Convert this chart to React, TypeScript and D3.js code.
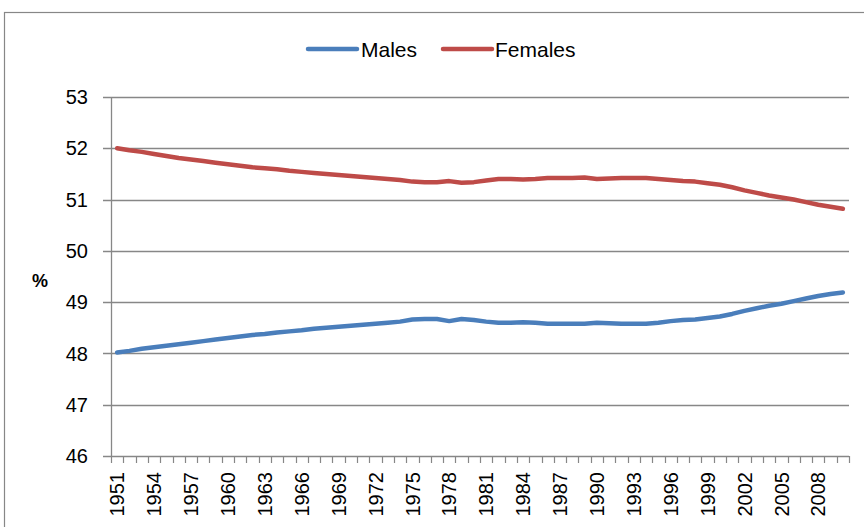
import React, { useEffect, useRef } from "react";
import * as d3 from "d3";

const years: number[] = d3.range(1951, 2011);

const females: number[] = [
  52.0, 51.96, 51.93, 51.89, 51.85, 51.81, 51.78, 51.75, 51.72, 51.69,
  51.66, 51.63, 51.61, 51.59, 51.56, 51.54, 51.52, 51.5, 51.48, 51.46,
  51.44, 51.42, 51.4, 51.38, 51.35, 51.34, 51.34, 51.36, 51.33, 51.34,
  51.37, 51.4, 51.4, 51.39, 51.4, 51.42, 51.42, 51.42, 51.43, 51.4,
  51.41, 51.42, 51.42, 51.42, 51.4, 51.38, 51.36, 51.35, 51.32, 51.29,
  51.24, 51.18, 51.13, 51.08, 51.04, 51.0, 50.95, 50.9, 50.86, 50.82,
];

const males: number[] = [
  48.02, 48.05, 48.09, 48.12, 48.15, 48.18, 48.21, 48.24, 48.27, 48.3,
  48.33, 48.36, 48.38, 48.41, 48.43, 48.45, 48.48, 48.5, 48.52, 48.54,
  48.56, 48.58, 48.6, 48.62, 48.66, 48.67, 48.67, 48.63, 48.67, 48.65,
  48.62, 48.6, 48.6, 48.61, 48.6, 48.58, 48.58, 48.58, 48.58, 48.6,
  48.59, 48.58, 48.58, 48.58, 48.6, 48.63, 48.65, 48.66, 48.69, 48.72,
  48.77, 48.83, 48.88, 48.93, 48.97, 49.02, 49.07, 49.12, 49.16, 49.19,
];

const yTicks: number[] = [46, 47, 48, 49, 50, 51, 52, 53];

const series = [
  { name: "Males", values: males, color: "#4A7EBB" },
  { name: "Females", values: females, color: "#BE4B48" },
];

const FONT = "'Liberation Sans', Arial, sans-serif";

export default function App() {
  const svgRef = useRef<SVGSVGElement>(null);

  useEffect(() => {
    const svg = d3.select(svgRef.current);
    svg.selectAll("*").remove();

    const width = 864;
    const height = 527;
    const margin = { top: 97, right: 15, bottom: 71, left: 111 };
    const gridColor = "#878787";

    svg.attr("width", width).attr("height", height);

    // chart border
    svg
      .append("rect")
      .attr("x", 4.5)
      .attr("y", 12.5)
      .attr("width", width + 10)
      .attr("height", height + 10)
      .attr("fill", "white")
      .attr("stroke", gridColor)
      .attr("stroke-width", 1.2);

    const x = d3
      .scaleBand<number>()
      .domain(years)
      .range([margin.left, width - margin.right])
      .padding(0);

    const y = d3
      .scaleLinear()
      .domain([46, 53])
      .range([height - margin.bottom, margin.top]);

    // gridlines + y ticks
    svg
      .append("g")
      .selectAll("line")
      .data(yTicks)
      .join("line")
      .attr("x1", margin.left - 8)
      .attr("x2", width - margin.right)
      .attr("y1", (d) => Math.round(y(d)) + 0.5)
      .attr("y2", (d) => Math.round(y(d)) + 0.5)
      .attr("stroke", gridColor)
      .attr("stroke-width", 1.3);

    // y axis line
    svg
      .append("line")
      .attr("x1", margin.left + 0.5)
      .attr("x2", margin.left + 0.5)
      .attr("y1", y(53))
      .attr("y2", y(46))
      .attr("stroke", gridColor)
      .attr("stroke-width", 1.3);

    // y tick labels
    svg
      .append("g")
      .selectAll("text")
      .data(yTicks)
      .join("text")
      .attr("x", 88)
      .attr("y", (d) => y(d))
      .attr("dy", "0.36em")
      .attr("text-anchor", "end")
      .attr("font-family", FONT)
      .attr("font-size", 20)
      .attr("fill", "#000")
      .text((d) => d);

    // x ticks at category boundaries
    const bounds = years.map((d) => x(d) as number).concat([width - margin.right]);
    svg
      .append("g")
      .selectAll("line")
      .data(bounds)
      .join("line")
      .attr("x1", (d) => Math.round(d) + 0.5)
      .attr("x2", (d) => Math.round(d) + 0.5)
      .attr("y1", y(46))
      .attr("y2", y(46) + 7)
      .attr("stroke", gridColor)
      .attr("stroke-width", 1.2);

    // x tick labels every 3 years
    svg
      .append("g")
      .selectAll("text")
      .data(years.filter((d) => (d - 1951) % 3 === 0))
      .join("text")
      .attr("transform", (d) => {
        const cx = (x(d) as number) + x.bandwidth() / 2;
        return `translate(${cx},${y(46) + 16}) rotate(-90)`;
      })
      .attr("dy", "0.36em")
      .attr("text-anchor", "end")
      .attr("font-family", FONT)
      .attr("font-size", 20)
      .attr("fill", "#000")
      .text((d) => d);

    // "%" axis title
    svg
      .append("text")
      .attr("x", 40)
      .attr("y", 281)
      .attr("dy", "0.36em")
      .attr("text-anchor", "middle")
      .attr("font-family", FONT)
      .attr("font-weight", "bold")
      .attr("font-size", 18)
      .text("%");

    // lines
    const line = d3
      .line<number>()
      .x((_, i) => (x(years[i]) as number) + x.bandwidth() / 2)
      .y((d) => y(d));

    series.forEach((s) => {
      svg
        .append("path")
        .datum(s.values)
        .attr("d", line)
        .attr("fill", "none")
        .attr("stroke", s.color)
        .attr("stroke-width", 4.5)
        .attr("stroke-linecap", "round")
        .attr("stroke-linejoin", "round");
    });

    // legend
    const legend = svg.append("g");
    const legendPos = [
      { lx: 308, tx: 361 },
      { lx: 443, tx: 495 },
    ];
    series.forEach((s, i) => {
      legend
        .append("line")
        .attr("x1", legendPos[i].lx)
        .attr("x2", legendPos[i].lx + 49)
        .attr("y1", 49)
        .attr("y2", 49)
        .attr("stroke", s.color)
        .attr("stroke-width", 4.5)
        .attr("stroke-linecap", "round");
      legend
        .append("text")
        .attr("x", legendPos[i].tx)
        .attr("y", 49)
        .attr("dy", "0.36em")
        .attr("font-family", FONT)
        .attr("font-size", 21)
        .attr("fill", "#000")
        .text(s.name);
    });
  }, []);

  return (
    <svg
      ref={svgRef}
      style={{ position: "absolute", left: 0, top: 0, display: "block" }}
    ></svg>
  );
}
